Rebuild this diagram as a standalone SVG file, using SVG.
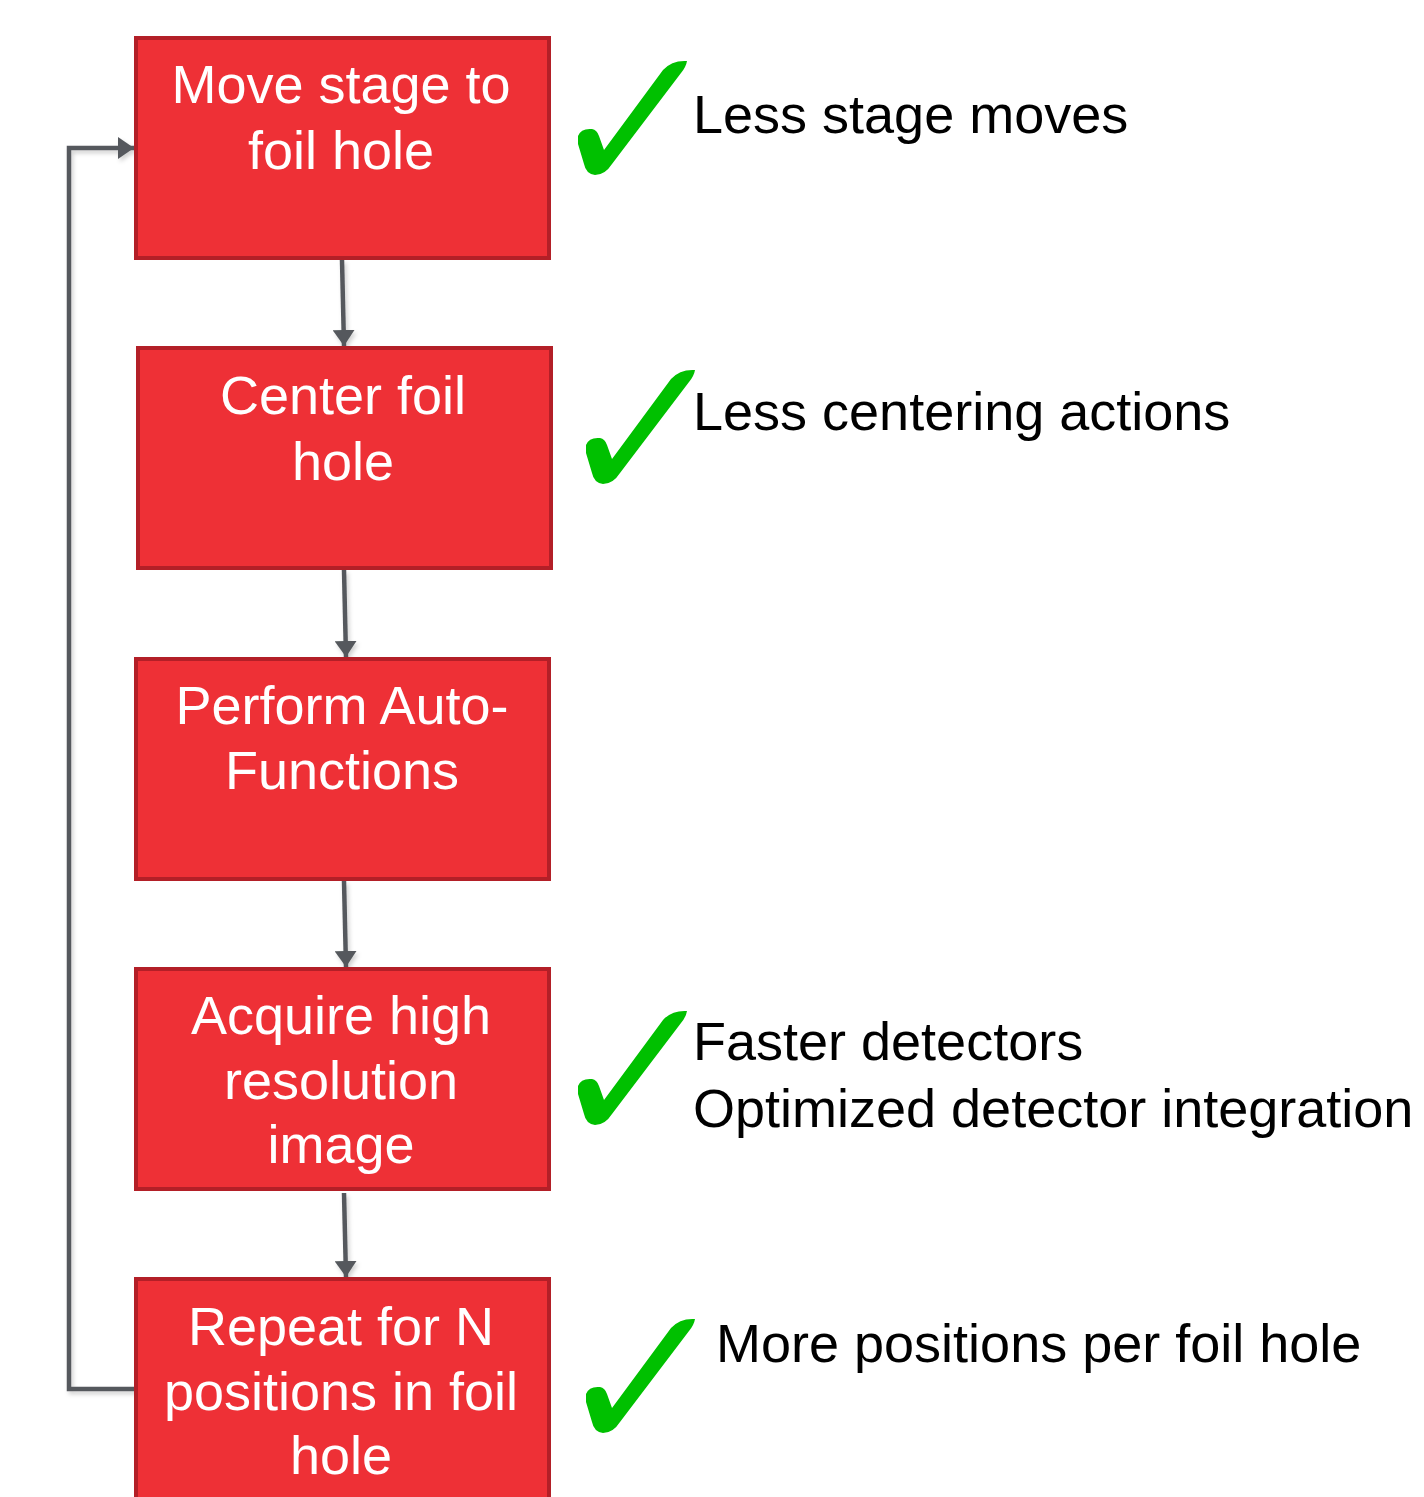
<svg xmlns="http://www.w3.org/2000/svg" width="1424" height="1497" viewBox="0 0 1424 1497">
  <style>
    .box { fill: #ee3036; stroke: #b31f27; stroke-width: 4; }
    .lbl { font-family: "Liberation Sans", Arial, sans-serif; font-size: 54px; fill: #ffffff; text-anchor: middle; }
    .note { font-family: "Liberation Sans", Arial, sans-serif; font-size: 54px; fill: #000000; }
    .edge { fill: none; stroke: #55595d; stroke-width: 4.5; }
    .tick { fill: #00c000; }
  </style>
  <defs>
    <marker id="arrow" viewBox="0 0 16 22" refX="16" refY="11" markerWidth="16" markerHeight="22" markerUnits="userSpaceOnUse" orient="auto">
      <path d="M0,0 L16,11 L0,22 Z" fill="#55595d"/>
    </marker>
    <filter id="soft" x="-20%" y="-20%" width="140%" height="140%">
      <feDropShadow dx="2" dy="3" stdDeviation="2" flood-color="#000000" flood-opacity="0.18"/>
    </filter>
    <path id="check" d="M1,76 Q4,68 15,69 Q20,70 22,76 L27,90 L86,10 Q95,0 110,1 Q109,7 104,13 L35,104 Q28,115 18,115 Q9,114 7,104 L1,84 Z"/>
  </defs>

  <rect width="1424" height="1497" fill="#ffffff"/>

  <!-- connectors -->
  <g id="connectors" filter="url(#soft)">
    <path class="edge" d="M342,260 L344,346" marker-end="url(#arrow)"/>
    <path class="edge" d="M344,570 L346,657" marker-end="url(#arrow)"/>
    <path class="edge" d="M344,881 L346,967" marker-end="url(#arrow)"/>
    <path class="edge" d="M344,1193 L346,1277" marker-end="url(#arrow)"/>
    <path class="edge" d="M136,1389 L69,1389 L69,148 L134,148" marker-end="url(#arrow)"/>
  </g>

  <!-- process steps -->
  <g id="step-move">
    <rect class="box" x="136" y="38" width="413" height="220"/>
    <text class="lbl" x="341" y="103">Move stage to</text>
    <text class="lbl" x="341" y="169">foil hole</text>
  </g>
  <g id="step-center">
    <rect class="box" x="138" y="348" width="413" height="220"/>
    <text class="lbl" x="343" y="414">Center foil</text>
    <text class="lbl" x="343" y="480">hole</text>
  </g>
  <g id="step-auto">
    <rect class="box" x="136" y="659" width="413" height="220"/>
    <text class="lbl" x="342" y="724">Perform Auto-</text>
    <text class="lbl" x="342" y="789">Functions</text>
  </g>
  <g id="step-acquire">
    <rect class="box" x="136" y="969" width="413" height="220"/>
    <text class="lbl" x="341" y="1034">Acquire high</text>
    <text class="lbl" x="341" y="1099">resolution</text>
    <text class="lbl" x="341" y="1163">image</text>
  </g>
  <g id="step-repeat">
    <rect class="box" x="136" y="1279" width="413" height="240"/>
    <text class="lbl" x="341" y="1345">Repeat for N</text>
    <text class="lbl" x="341" y="1410">positions in foil</text>
    <text class="lbl" x="341" y="1474">hole</text>
  </g>

  <!-- improvements -->
  <g id="note-stage">
    <use href="#check" class="tick" x="577" y="60"/>
    <text class="note" x="693" y="133">Less stage moves</text>
  </g>
  <g id="note-centering">
    <use href="#check" class="tick" x="585" y="369"/>
    <text class="note" x="693" y="430">Less centering actions</text>
  </g>
  <g id="note-detectors">
    <use href="#check" class="tick" x="577" y="1010"/>
    <text class="note" x="693" y="1060">Faster detectors</text>
    <text class="note" x="693" y="1127">Optimized detector integration</text>
  </g>
  <g id="note-positions">
    <use href="#check" class="tick" x="585" y="1318"/>
    <text class="note" x="716" y="1362">More positions per foil hole</text>
  </g>
</svg>
